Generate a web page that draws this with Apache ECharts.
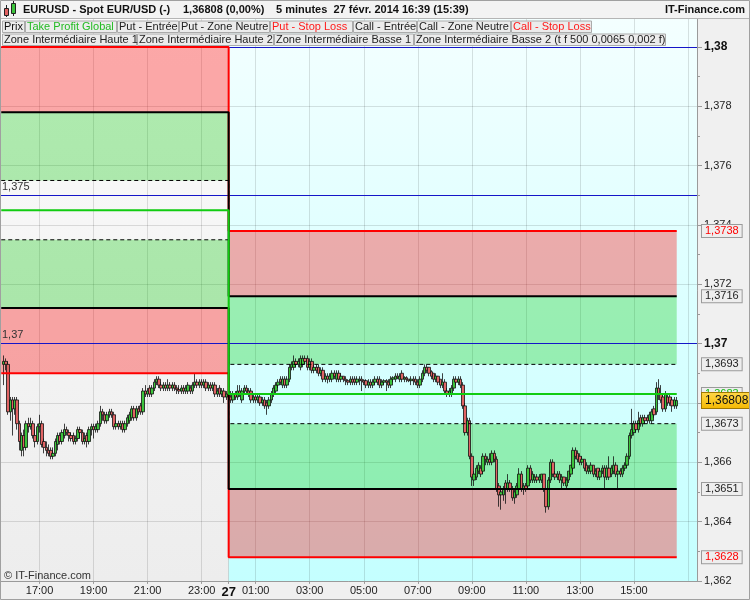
<!DOCTYPE html>
<html><head><meta charset="utf-8">
<script src="https://cdn.jsdelivr.net/npm/echarts@6/dist/echarts.min.js"></script>
<style>html,body{margin:0;padding:0;background:#f0f0f0}#c{width:750px;height:600px}</style>
</head><body><div id="c"></div>
<script>
// ---- data ----
const candleStart = '26 15:40';
// [open, close, low, high]
const candles = [
[1.3693,1.3694,1.3686,1.3696],[1.3694,1.3693,1.3691,1.3695],[1.3693,1.3677,1.3676,1.3694],[1.3677,1.3681,1.3674,1.3682],
[1.3681,1.3678,1.3669,1.3682],[1.3678,1.3681,1.3676,1.3682],[1.3681,1.3673,1.3671,1.3682],[1.3673,1.3667,1.3664,1.3674],
[1.3664,1.3669,1.3662,1.3670],[1.3669,1.3665,1.3662,1.3671],[1.3665,1.3673,1.3664,1.3674],[1.3673,1.3672,1.3670,1.3675],
[1.3672,1.3673,1.3671,1.3675],[1.3673,1.3669,1.3668,1.3674],[1.3669,1.3667,1.3665,1.3671],[1.3667,1.3672,1.3666,1.3673],
[1.3672,1.3673,1.3670,1.3676],[1.3673,1.3666,1.3665,1.3674],[1.3667,1.3665,1.3663,1.3668],[1.3665,1.3664,1.3662,1.3667],
[1.3664,1.3663,1.3662,1.3666],[1.3664,1.3662,1.3661,1.3665],[1.3662,1.3663,1.3661,1.3665],[1.3663,1.3667,1.3662,1.3668],
[1.3666,1.3669,1.3664,1.3670],[1.3669,1.3667,1.3666,1.3670],[1.3667,1.3670,1.3666,1.3671],[1.3669,1.3671,1.3668,1.3673],
[1.3671,1.3670,1.3669,1.3672],[1.3670,1.3669,1.3667,1.3671],[1.3669,1.3668,1.3667,1.3670],[1.3669,1.3667,1.3666,1.3670],
[1.3667,1.3668,1.3666,1.3669],[1.3668,1.3671,1.3667,1.3672],[1.3671,1.3670,1.3668,1.3672],[1.3670,1.3667,1.3666,1.3671],
[1.3667,1.3668,1.3666,1.3670],[1.3669,1.3667,1.3665,1.3670],[1.3667,1.3671,1.3666,1.3672],[1.3671,1.3672,1.3669,1.3673],
[1.3672,1.3671,1.3668,1.3673],[1.3671,1.3672,1.3670,1.3673],[1.3671,1.3673,1.3670,1.3674],[1.3673,1.3677,1.3672,1.3679],
[1.3677,1.3676,1.3674,1.3678],[1.3676,1.3674,1.3673,1.3677],[1.3674,1.3676,1.3673,1.3677],[1.3676,1.3677,1.3675,1.3678],
[1.3677,1.3676,1.3675,1.3678],[1.3676,1.3672,1.3671,1.3677],[1.3672,1.3673,1.3671,1.3674],[1.3673,1.3672,1.3671,1.3674],
[1.3672,1.3673,1.3671,1.3674],[1.3673,1.3671,1.3670,1.3674],[1.3671,1.3673,1.3670,1.3674],[1.3673,1.3675,1.3672,1.3676],
[1.3674,1.3676,1.3673,1.3677],[1.3675,1.3678,1.3674,1.3679],[1.3678,1.3675,1.3674,1.3679],[1.3675,1.3678,1.3674,1.3679],
[1.3678,1.3677,1.3676,1.3679],[1.3679,1.3677,1.3676,1.3680],[1.3677,1.3684,1.3676,1.3685],[1.3684,1.3683,1.3682,1.3686],
[1.3683,1.3684,1.3682,1.3685],[1.3685,1.3683,1.3682,1.3686],[1.3683,1.3685,1.3682,1.3686],[1.3685,1.3687,1.3684,1.3688],
[1.3687,1.3688,1.3686,1.3689],[1.3688,1.3686,1.3685,1.3689],[1.3686,1.3685,1.3684,1.3687],[1.3685,1.3686,1.3684,1.3687],
[1.3686,1.3685,1.3684,1.3687],[1.3685,1.3686,1.3684,1.3688],[1.3686,1.3685,1.3684,1.3687],[1.3685,1.3686,1.3684,1.3687],
[1.3686,1.3685,1.3684,1.3687],[1.3685,1.36845,1.3683,1.3686],[1.36845,1.3684,1.3683,1.3686],[1.3684,1.3685,1.3683,1.3686],
[1.3685,1.3684,1.3683,1.3686],[1.3684,1.3685,1.3683,1.3686],[1.3684,1.3686,1.3683,1.3687],[1.3685,1.3684,1.3683,1.3686],
[1.3684,1.3686,1.3683,1.3687],[1.3686,1.3687,1.3685,1.3690],[1.3687,1.3686,1.3685,1.3688],[1.3686,1.3687,1.3685,1.3688],
[1.3687,1.3686,1.3685,1.3688],[1.3686,1.3687,1.3685,1.3688],[1.3687,1.3685,1.3684,1.3688],[1.3685,1.3686,1.3684,1.3687],
[1.3686,1.3685,1.3684,1.3687],[1.3685,1.3686,1.3684,1.3687],[1.3686,1.3683,1.3682,1.3687],[1.3683,1.3684,1.3682,1.3685],
[1.3685,1.3683,1.3682,1.3686],[1.3683,1.3684,1.3682,1.3685],[1.3684,1.3682,1.3680,1.3685],[1.3682,1.3683,1.3681,1.3684],
[1.3683,1.3682,1.3681,1.3684],[1.3682,1.3681,1.3680,1.3684],[1.3681,1.3683,1.3680,1.3684],[1.3683,1.3682,1.3681,1.3684],
[1.3682,1.3684,1.3681,1.3686],[1.3684,1.3683,1.3682,1.3686],[1.3681,1.3684,1.3680,1.3685],[1.3684,1.3685,1.3683,1.3686],
[1.3685,1.3684,1.3683,1.3686],[1.3684,1.3683,1.3682,1.3685],[1.3684,1.3681,1.3680,1.3685],[1.3681,1.3682,1.3680,1.3683],
[1.3682,1.3681,1.3680,1.3683],[1.3681,1.3682,1.3680,1.3683],[1.3682,1.3680,1.3679,1.3683],[1.3680,1.3681,1.3679,1.3682],
[1.3681,1.3679,1.3678,1.3682],[1.3680,1.3679,1.3676,1.3681],[1.3679,1.3681,1.3678,1.3682],[1.3681,1.3683,1.3680,1.3684],
[1.3683,1.3685,1.3682,1.3686],[1.3684,1.3686,1.3683,1.3687],[1.3686,1.3687,1.3685,1.3688],[1.3688,1.3687,1.3686,1.3689],
[1.3686,1.3688,1.3685,1.3689],[1.3688,1.3686,1.3685,1.3689],[1.3686,1.3688,1.3685,1.3689],[1.3688,1.3692,1.3687,1.3693],
[1.3692,1.3693,1.3691,1.3694],[1.3692,1.3694,1.3691,1.3696],[1.3694,1.3693,1.3692,1.3695],[1.3693,1.3694,1.3692,1.3695],
[1.3692,1.3695,1.3691,1.3696],[1.3693,1.3695,1.3692,1.3696],[1.3695,1.3694,1.3693,1.3696],[1.3695,1.3692,1.3691,1.3696],
[1.3692,1.3694,1.3691,1.3695],[1.3694,1.3691,1.3690,1.3695],[1.3691,1.3692,1.3690,1.3693],[1.3692,1.3691,1.3690,1.3693],
[1.3692,1.3690,1.3689,1.3693],[1.3690,1.3691,1.3689,1.3692],[1.3691,1.3688,1.3687,1.3692],[1.3688,1.3689,1.3687,1.3690],
[1.3689,1.3688,1.36866,1.3690],[1.3688,1.3689,1.3687,1.3690],[1.3688,1.3690,1.3687,1.3691],[1.3690,1.3689,1.3688,1.3691],
[1.3688,1.3690,1.3687,1.3691],[1.3690,1.3688,1.3687,1.3691],[1.3688,1.3689,1.3687,1.3690],[1.3689,1.3688,1.3687,1.3689],
[1.3688,1.36875,1.3686,1.3689],[1.36875,1.3687,1.3686,1.3688],[1.3687,1.3688,1.3686,1.3689],[1.3688,1.3687,1.3686,1.3689],
[1.3688,1.3687,1.3686,1.3689],[1.3687,1.3688,1.3686,1.3689],[1.36875,1.3688,1.3686,1.3689],[1.3688,1.36875,1.3684,1.3689],
[1.36875,1.3687,1.3686,1.3688],[1.36875,1.3686,1.3685,1.3688],[1.3686,1.3687,1.3685,1.3688],[1.3687,1.3686,1.3685,1.3688],
[1.3686,1.3687,1.3685,1.3688],[1.3687,1.3688,1.3686,1.3689],[1.3688,1.3687,1.3686,1.3689],[1.3688,1.3686,1.3685,1.3689],
[1.3686,1.3687,1.3685,1.3688],[1.3687,1.36875,1.3686,1.3688],[1.36875,1.3687,1.3684,1.3688],[1.3687,1.3686,1.3685,1.3688],
[1.3686,1.3688,1.3685,1.3689],[1.3688,1.36885,1.3687,1.3689],[1.3688,1.3689,1.3687,1.3690],[1.3689,1.36885,1.3688,1.3690],
[1.3688,1.3689,1.3687,1.3690],[1.3690,1.3688,1.3687,1.3691],[1.3688,1.36885,1.3687,1.3689],[1.36885,1.3688,1.3687,1.3689],
[1.3688,1.36875,1.3687,1.3688],[1.36875,1.3688,1.3686,1.3689],[1.3688,1.36875,1.3686,1.3689],[1.3688,1.3687,1.3686,1.3689],
[1.3687,1.3686,1.3685,1.3688],[1.3686,1.3688,1.3685,1.3689],[1.3688,1.3690,1.3687,1.3691],[1.3690,1.3692,1.3689,1.3693],
[1.3692,1.3691,1.3690,1.3693],[1.3692,1.3690,1.3689,1.3692],[1.36905,1.3689,1.3688,1.3691],[1.3690,1.3688,1.3687,1.3690],
[1.3688,1.3689,1.3687,1.3690],[1.3689,1.3687,1.3686,1.3689],[1.3688,1.3686,1.3685,1.3688],[1.3686,1.3687,1.3685,1.3690],
[1.3687,1.3684,1.3683,1.3688],[1.3684,1.3683,1.3682,1.3685],[1.3683,1.3684,1.3682,1.3685],[1.3683,1.3685,1.3682,1.3686],
[1.3685,1.3688,1.3684,1.3689],[1.3688,1.3687,1.3686,1.3689],[1.3687,1.3688,1.3686,1.3689],[1.3688,1.3686,1.3685,1.3689],
[1.3686,1.3679,1.3678,1.3687],[1.3679,1.3670,1.3669,1.3680],[1.3670,1.3674,1.3669,1.3675],[1.3674,1.3662,1.3661,1.3675],
[1.3662,1.3655,1.3652,1.3663],[1.3654,1.3656,1.3652,1.3657],[1.3655,1.3658,1.3654,1.3659],[1.3657,1.3659,1.3656,1.3660],
[1.3658,1.3656,1.3655,1.3659],[1.3657,1.3662,1.3656,1.3663],[1.3662,1.3661,1.3659,1.3663],[1.3660,1.3661,1.3659,1.3662],
[1.3661,1.3660,1.3659,1.3663],[1.3660,1.3663,1.3659,1.3664],[1.3663,1.3661,1.3660,1.3664],[1.3661,1.3651,1.3650,1.3662],
[1.3652,1.3649,1.3645,1.3653],[1.3649,1.3650,1.3644,1.3651],[1.3649,1.3651,1.3647,1.3652],[1.3653,1.3651,1.3646,1.3654],
[1.3651,1.3653,1.3650,1.3656],[1.3653,1.3651,1.3650,1.3654],[1.3651,1.3648,1.3647,1.3652],[1.3648,1.3650,1.3646,1.3651],
[1.3649,1.3652,1.3648,1.3653],[1.3651,1.3656,1.3650,1.3658],[1.3656,1.3651,1.3650,1.3657],[1.3651,1.3652,1.3649,1.3653],
[1.3652,1.3651,1.3650,1.3653],[1.3652,1.3658,1.3651,1.3659],[1.3658,1.3654,1.3653,1.3659],[1.3654,1.3656,1.3653,1.3657],
[1.3654,1.3655,1.3653,1.3656],[1.3655,1.3654,1.3653,1.3656],[1.3654,1.3655,1.3653,1.3656],[1.3654,1.3656,1.3653,1.3656],
[1.3656,1.3651,1.3650,1.3656],[1.3651,1.3645,1.3643,1.3651],[1.3645,1.3654,1.3644,1.3655],[1.3654,1.3660,1.3653,1.3661],
[1.3660,1.3656,1.3655,1.3661],[1.3656,1.3655,1.3654,1.3657],[1.3655,1.3656,1.3654,1.3657],[1.3656,1.3654,1.3653,1.3657],
[1.3654,1.3655,1.3651,1.3656],[1.3655,1.3653,1.3652,1.3655],[1.3652,1.3654,1.3651,1.3655],[1.3654,1.3657,1.3653,1.3657],
[1.3656,1.3659,1.3655,1.3659],[1.3658,1.3664,1.3657,1.3665],[1.3664,1.3662,1.3661,1.3665],[1.3663,1.3661,1.3660,1.3664],
[1.3662,1.3660,1.3659,1.3663],[1.3660,1.3661,1.3659,1.3662],[1.3661,1.3658,1.3657,1.3661],[1.3659,1.3657,1.3656,1.3660],
[1.3657,1.3658,1.3656,1.3659],[1.3657,1.3659,1.3656,1.3660],[1.3659,1.3656,1.3655,1.3659],[1.3656,1.3657,1.3655,1.3658],
[1.3658,1.3655,1.3654,1.3658],[1.3655,1.3657,1.3654,1.3658],[1.3657,1.3658,1.3656,1.3659],[1.3658,1.3655,1.3651,1.3659],
[1.3655,1.3658,1.3654,1.3659],[1.3658,1.3655,1.3654,1.3662],[1.3656,1.3658,1.3655,1.3659],[1.3657,1.3659,1.3656,1.3662],
[1.3659,1.3656,1.3655,1.3660],[1.3656,1.3657,1.3651,1.3658],[1.3657,1.3656,1.3655,1.3658],[1.3656,1.3658,1.3655,1.3659],
[1.3658,1.3659,1.3657,1.3660],[1.3659,1.3662,1.3658,1.3663],[1.3662,1.3669,1.3661,1.3670],[1.3669,1.3671,1.3668,1.3678],
[1.3670,1.3673,1.3669,1.3674],[1.3673,1.3671,1.3670,1.3674],[1.3671,1.3674,1.3670,1.3677],[1.3675,1.3673,1.3672,1.3676],
[1.3673,1.3675,1.3672,1.3676],[1.3675,1.3674,1.3673,1.3676],[1.3675,1.3674,1.3673,1.3676],[1.3674,1.3676,1.3673,1.3677],
[1.3674,1.3677,1.3673,1.3678],[1.3678,1.3676,1.3675,1.3679],[1.3677,1.3685,1.3676,1.3687],[1.3685,1.3683,1.3681,1.3688],
[1.3683,1.3681,1.3680,1.3686],[1.3682,1.3678,1.3677,1.3683],[1.3678,1.3683,1.3677,1.3684],[1.3682,1.3680,1.3679,1.3683],
[1.3682,1.3680,1.3679,1.3683],[1.3681,1.3679,1.3677,1.3682],[1.3679,1.3681,1.3678,1.3682],[1.3679,1.36808,1.3678,1.3682]
];
// strategy levels: [26 Feb session, 27 Feb session]
const zoneStart      = ['26 15:30', '27 00:00'];
const lineStart      = ['26 15:35', '27 00:00'];
const sessionEnd     = ['27 00:00', '27 16:35'];
const stopHigh       = [1.3800, 1.3738];
const entryHigh      = [1.3778, 1.3716];
const neutralHigh    = [1.3755, 1.3693];
const takeProfit     = [1.3745, 1.3683];
const neutralLow     = [1.3735, 1.3673];
const entryLow       = [1.3712, 1.3651];
const stopLow        = [1.3690, 1.3628];
const roundLevels    = [1.38, 1.375, 1.37];
const lastPrice      = 1.36808;

// ---- categories: 5-minute slots 26 Feb 15:30 -> 27 Feb 17:20 ----
const categories = [];
for (let t = 15 * 60 + 30; t <= 24 * 60 + 17 * 60 + 20; t += 5) {
  const day = t >= 1440 ? 27 : 26;
  const m = t % 1440;
  categories.push(day + ' ' + String(Math.floor(m / 60)).padStart(2, '0') + ':' + String(m % 60).padStart(2, '0'));
}
const firstCat = categories[0], lastCat = categories[categories.length - 1];
const startIdx = categories.indexOf(candleStart);
const candleData = candles.map((d, i) => [categories[startIdx + i], d[0], d[1], d[2], d[3]]);

const FONT = 'Liberation Sans, Arial, sans-serif';
const fmt = (v, n) => v.toFixed(n).replace('.', ',');
function isMajor(v) { const h = +v.slice(3, 5), m = +v.slice(6, 8); return m === 0 && (h % 2 === 1 || h === 0); }
function showLabel(v) { return isMajor(v) && v !== '27 17:00'; }

// zones
const RED = 'rgba(255,0,0,0.33)', GREEN = 'rgba(0,200,0,0.3)';
const zoneData = [];
[0, 1].forEach(s => {
  const a = zoneStart[s], b = sessionEnd[s];
  zoneData.push([{ xAxis: a, yAxis: stopHigh[s], itemStyle: { color: RED } }, { xAxis: b, yAxis: entryHigh[s] }]);
  zoneData.push([{ xAxis: a, yAxis: entryHigh[s], itemStyle: { color: GREEN } }, { xAxis: b, yAxis: neutralHigh[s] }]);
  zoneData.push([{ xAxis: a, yAxis: neutralLow[s], itemStyle: { color: GREEN } }, { xAxis: b, yAxis: entryLow[s] }]);
  zoneData.push([{ xAxis: a, yAxis: entryLow[s], itemStyle: { color: RED } }, { xAxis: b, yAxis: stopLow[s] }]);
});

function levelSeries(name, arr, style, z) {
  return {
    type: 'line', name, step: 'end', symbol: 'none', silent: true, z: z || 4,
    data: [[lineStart[0], arr[0]], [lineStart[1], arr[1]], [sessionEnd[1], arr[1]]],
    lineStyle: style
  };
}

const boxLabel = (color) => ({
  show: true, position: 'end', distance: 5, fontSize: 11, fontFamily: FONT, color,
  backgroundColor: '#eeeeee', borderColor: '#9a9a9a', borderWidth: 1, padding: [1, 3, 0, 3]
});
const rightLevels = [
  [stopHigh[1], '#ff0000'], [entryHigh[1], '#222'], [neutralHigh[1], '#222'], [takeProfit[1], '#11bb11'],
  [neutralLow[1], '#222'], [entryLow[1], '#222'], [stopLow[1], '#ff0000']
];
// each price box is a short invisible segment at the right edge, its label sits on the axis
const boxSeries = rightLevels.map(([v, c], i) => ({
  type: 'line', data: [], silent: true,
  markLine: {
    silent: true, symbol: ['none', 'none'], z: 6,
    lineStyle: { color: 'rgba(0,0,0,0)', width: 1 },
    label: Object.assign(boxLabel(c), { formatter: fmt(v, 4) }),
    data: [[{ coord: [categories[categories.length - 2], v] }, { coord: [lastCat, v] }]]
  }
}));
const roundSeries = roundLevels.map(v => ({
  type: 'line', data: [], silent: true,
  markLine: {
    silent: true, symbol: ['none', 'none'], z: 2,
    lineStyle: { color: '#1515c8', width: 1, type: 'solid' },
    label: { show: true, position: 'insideStartTop', distance: [3, 3], fontSize: 11, color: '#333',
             formatter: fmt(v, Math.round(v * 1000) % 10 === 0 ? 2 : 3) },
    data: [[{ coord: [firstCat, v] }, { coord: [lastCat, v] }]]
  }
}));

const legendRow1 = [
  ['Prix', 2, 22, '#111'], ['Take Profit Global', 25, 91, '#22bb22'], ['Put - Entrée', 117, 61, '#222'],
  ['Put - Zone Neutre', 179, 90, '#222'], ['Put - Stop Loss', 270, 82, '#ff1a1a'], ['Call - Entrée', 353, 63, '#222'],
  ['Call - Zone Neutre', 417, 93, '#222'], ['Call - Stop Loss', 511, 80, '#ff1a1a']
];
const legendRow2 = [
  ['Zone Intermédiaire Haute 1', 2, 134, '#222'], ['Zone Intermédiaire Haute 2', 137, 136, '#222'],
  ['Zone Intermédiaire Basse 1', 274, 139, '#222'], ['Zone Intermédiaire Basse 2 (t f 500 0,0065 0,002 f)', 414, 251, '#222']
];
const graphics = [];
graphics.push({ type: 'rect', z: 100, shape: { x: 0, y: 0, width: 750, height: 18 }, style: { fill: '#f3f3f3' } });
graphics.push({ type: 'line', z: 100, shape: { x1: 0, y1: 18.5, x2: 750, y2: 18.5 }, style: { stroke: '#b5b5b5' } });
graphics.push({ type: 'line', z: 101, shape: { x1: 6.5, y1: 5, x2: 6.5, y2: 17 }, style: { stroke: '#222' } });
graphics.push({ type: 'rect', z: 101, shape: { x: 4.5, y: 8.5, width: 4, height: 7 }, style: { fill: '#e06060', stroke: '#222' } });
graphics.push({ type: 'line', z: 101, shape: { x1: 13.5, y1: 1, x2: 13.5, y2: 16 }, style: { stroke: '#222' } });
graphics.push({ type: 'rect', z: 101, shape: { x: 11.5, y: 3.5, width: 4, height: 10 }, style: { fill: '#3cc43c', stroke: '#222' } });
const headTexts = [['EURUSD - Spot EUR/USD (-)', 23], [fmt(lastPrice, 5) + ' (0,00%)', 183], ['5 minutes  27 févr. 2014 16:39 (15:39)', 276]];
headTexts.forEach(([t, x]) => graphics.push({ type: 'text', z: 101, x, y: 9.5, style: { text: t, font: 'bold 11px ' + FONT, fill: '#111', verticalAlign: 'middle' } }));
graphics.push({ type: 'text', z: 101, x: 745, y: 9.5, style: { text: 'IT-Finance.com', font: 'bold 11px ' + FONT, fill: '#111', align: 'right', verticalAlign: 'middle' } });
function legendRow(row, y) {
  row.forEach(([t, x, w, c]) => {
    graphics.push({ type: 'rect', z: 100, shape: { x: x + 0.5, y: y + 0.5, width: w, height: 11.5 }, style: { fill: '#ececec', stroke: '#ababab' } });
    graphics.push({ type: 'text', z: 101, x: x + 2, y: y + 6.8, style: { text: t, font: '11px ' + FONT, fill: c, verticalAlign: 'middle' } });
  });
}
legendRow(legendRow1, 20.5);
legendRow(legendRow2, 33.5);
graphics.push({ type: 'text', z: 100, x: 4, y: 576, style: { text: '© IT-Finance.com', font: '11px ' + FONT, fill: '#333', verticalAlign: 'middle' } });
graphics.push({ type: 'rect', z: 102, shape: { x: 0.5, y: 0.5, width: 749, height: 599 }, style: { fill: 'none', stroke: '#a0a0a0' } });

const option = {
  animation: false,
  backgroundColor: '#f0f0f0',
  textStyle: { fontFamily: FONT },
  grid: { left: -1, right: 53, top: -12.32, height: 593.2, containLabel: false, outerBoundsMode: 'none' },
  xAxis: {
    type: 'category', data: categories, boundaryGap: false,
    axisLine: { lineStyle: { color: '#9a9a9a' } },
    axisTick: { interval: (i, v) => showLabel(v), length: 3, lineStyle: { color: '#9a9a9a' } },
    axisLabel: {
      interval: (i, v) => showLabel(v), fontSize: 11, color: '#222', margin: 5,
      formatter: v => v.slice(3) === '00:00' ? '{d|' + v.slice(0, 2) + '}' : v.slice(3),
      rich: { d: { fontWeight: 'bold', fontSize: 13, color: '#111' } }
    },
    splitLine: { show: true, interval: (i, v) => isMajor(v), lineStyle: { color: 'rgba(0,0,0,0.12)' } }
  },
  yAxis: {
    type: 'value', position: 'right', min: 1.362, max: 1.382, interval: 0.002,
    axisLine: { show: true, lineStyle: { color: '#9a9a9a' } },
    axisTick: { show: true, length: 5, lineStyle: { color: '#9a9a9a' } },
    minorTick: { show: true, splitNumber: 2, length: 3, lineStyle: { color: '#9a9a9a' } },
    axisLabel: {
      margin: 7, fontSize: 11, color: '#222',
      formatter: v => { const r = Math.round(v * 1000); return r % 10 === 0 ? '{b|' + fmt(r / 1000, 2) + '}' : fmt(r / 1000, 3); },
      rich: { b: { fontWeight: 'bold', fontSize: 12, color: '#111' } }
    },
    splitLine: { show: true, lineStyle: { color: 'rgba(0,0,0,0.12)' } }
  },
  graphic: graphics,
  series: [
    { // session backgrounds
      type: 'line', data: [], silent: true,
      markArea: {
        silent: true, z: -1,
        data: [
          [{ xAxis: firstCat, yAxis: 1.382, itemStyle: { color: { type: 'linear', x: 0, y: 0, x2: 0, y2: 1, colorStops: [{ offset: 0, color: '#fcfcfc' }, { offset: 1, color: '#ededed' }] } } },
           { xAxis: sessionEnd[0], yAxis: 1.362 }],
          [{ xAxis: sessionEnd[0], yAxis: 1.382, itemStyle: { color: { type: 'linear', x: 0, y: 0, x2: 0, y2: 1, colorStops: [{ offset: 0, color: '#f6ffff' }, { offset: 1, color: '#c4ffff' }] } } },
           { xAxis: lastCat, yAxis: 1.362 }]
        ]
      }
    },
    { type: 'line', data: [], silent: true, markArea: { silent: true, z: 1, data: zoneData } },
    {
      type: 'candlestick', name: 'EURUSD', z: 3, barWidth: 3, silent: true,
      encode: { x: 0, y: [1, 2, 3, 4] },
      data: candleData,
      itemStyle: { color: '#3cc43c', color0: '#e06464', borderColor: '#111', borderColor0: '#111', borderWidth: 0.8 }
    },
    levelSeries('stopHigh', stopHigh, { color: '#ff0000', width: 2 }),
    levelSeries('stopLow', stopLow, { color: '#ff0000', width: 2 }),
    levelSeries('entryHigh', entryHigh, { color: '#000', width: 2 }),
    levelSeries('entryLow', entryLow, { color: '#000', width: 2 }),
    levelSeries('neutralHigh', neutralHigh, { color: '#000', width: 1, type: [4, 3] }),
    levelSeries('neutralLow', neutralLow, { color: '#000', width: 1, type: [4, 3] }),
    levelSeries('takeProfit', takeProfit, { color: '#11cc11', width: 2 }, 5),
    ...roundSeries,
    ...boxSeries,
    { // last price box
      type: 'line', data: [], silent: true,
      markLine: {
        silent: true, symbol: ['none', 'none'], z: 7,
        lineStyle: { color: 'rgba(0,0,0,0)', width: 1 },
        label: Object.assign(boxLabel('#111'), {
          formatter: fmt(lastPrice, 5), fontSize: 12, borderColor: '#a07800', padding: [2, 3, 1, 3],
          backgroundColor: { type: 'linear', x: 0, y: 0, x2: 0, y2: 1, colorStops: [{ offset: 0, color: '#ffd84a' }, { offset: 1, color: '#f5b800' }] }
        }),
        data: [[{ coord: [categories[categories.length - 2], lastPrice] }, { coord: [lastCat, lastPrice] }]]
      }
    }
  ]
};
const chart = echarts.init(document.getElementById('c'), null, { renderer: 'canvas' });
chart.setOption(option);
</script></body></html>
